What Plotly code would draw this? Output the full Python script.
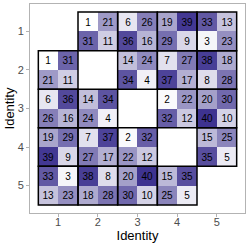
import plotly.graph_objects as go

identities = [1, 2, 3, 4, 5]
tick_labels = ["1", "2", "3", "4", "5"]

# values in each 2x2 block: top-left, top-right, bottom-left, bottom-right
top_left = [
    [None, 1, 6, 19, 33],
    [1, None, 14, 7, 38],
    [6, 14, None, 2, 20],
    [19, 7, 2, None, 15],
    [33, 38, 20, 15, None],
]
top_right = [
    [None, 21, 26, 39, 13],
    [31, None, 24, 27, 18],
    [36, 34, None, 22, 30],
    [29, 37, 32, None, 25],
    [3, 8, 40, 35, None],
]
bottom_left = [
    [None, 31, 36, 29, 3],
    [21, None, 34, 37, 8],
    [26, 24, None, 32, 40],
    [39, 27, 22, None, 35],
    [13, 18, 30, 25, None],
]
bottom_right = [
    [None, 11, 16, 9, 23],
    [11, None, 4, 17, 28],
    [16, 4, None, 12, 10],
    [9, 17, 12, None, 5],
    [23, 28, 10, 5, None],
]

n = len(identities)
xs = []
for c in identities:
    xs += [c - 0.25, c + 0.25]
ys = list(xs)

z = [[None] * (2 * n) for _ in range(2 * n)]
for ri in range(n):
    for ci in range(n):
        z[2 * ri][2 * ci] = top_left[ri][ci]
        z[2 * ri][2 * ci + 1] = top_right[ri][ci]
        z[2 * ri + 1][2 * ci] = bottom_left[ri][ci]
        z[2 * ri + 1][2 * ci + 1] = bottom_right[ri][ci]

text = [["" if v is None else str(v) for v in row] for row in z]

fig = go.Figure(go.Heatmap(
    x=xs, y=ys, z=z, text=text, texttemplate="%{text}",
    textfont=dict(size=10, color="black", family="Liberation Sans"),
    colorscale=[[0, "#ffffff"], [0.5, "#a29dc8"], [1, "#3e3390"]],
    zmin=1, zmax=40, showscale=False, hoverongaps=False,
))

for ri, r in enumerate(identities):
    for ci, c in enumerate(identities):
        if top_left[ri][ci] is None:
            continue
        fig.add_shape(type="rect", x0=c - 0.5, x1=c + 0.5, y0=r - 0.5, y1=r + 0.5,
                      line=dict(color="black", width=1.5), layer="above")

axis_common = dict(
    tickmode="array", tickvals=identities, ticktext=tick_labels,
    showgrid=False, zeroline=False, showline=True, mirror=True,
    linecolor="#b3b3b3", linewidth=1, ticks="outside", ticklen=3,
    tickcolor="#b3b3b3", automargin=False,
    tickfont=dict(size=11, color="#4d4d4d", family="Liberation Sans"),
)

fig.update_layout(
    template="none",
    width=249, height=249,
    margin=dict(l=30, r=4, t=4, b=36),
    plot_bgcolor="white", paper_bgcolor="white",
    font=dict(family="Liberation Sans", color="black"),
    xaxis=dict(range=[0.29, 5.71], ticklabelstandoff=-4,
               title=dict(text="Identity", font=dict(size=13, color="black"), standoff=0), **axis_common),
    yaxis=dict(range=[5.71, 0.29], ticklabelstandoff=0,
               title=dict(text="Identity", font=dict(size=13, color="black"), standoff=0), **axis_common),
)

fig.write_html("out.html", config={"displayModeBar": False},
               post_script="document.body.style.margin='0';document.body.style.overflow='hidden';")
